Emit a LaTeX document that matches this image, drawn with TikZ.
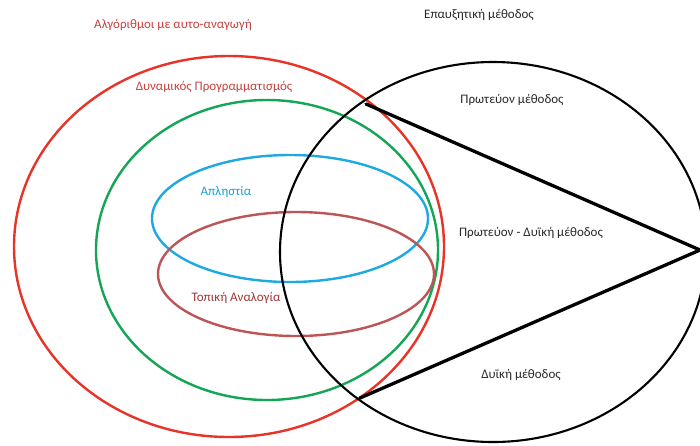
\documentclass[tikz,border=0pt]{standalone}
\usepackage{fontspec}
\setmainfont{Carlito}
\usetikzlibrary{shapes.geometric}
\definecolor{cred}{RGB}{232,52,40}
\definecolor{cgreen}{RGB}{20,165,85}
\definecolor{cblue}{RGB}{30,170,225}
\definecolor{cbrown}{RGB}{190,85,85}
\definecolor{tred}{RGB}{200,65,65}
\definecolor{tblue}{RGB}{30,160,215}
\definecolor{tbrown}{RGB}{160,55,55}
\definecolor{tblack}{RGB}{40,40,40}
\tikzset{
  ring/.style={ellipse, draw, inner sep=0pt, line width=2.4pt},
  lbl/.style={font=\fontsize{13}{15}\selectfont, inner sep=1pt},
  edge/.style={line width=3.3pt, line cap=round, line join=round}
}
\begin{document}
\begin{tikzpicture}[x=1pt,y=-1pt]
\useasboundingbox (0,0) rectangle (700,445);
\fill[white] (0,0) rectangle (700,445);
% coloured rings
\node[ring, draw=cred, minimum width=430pt, minimum height=381pt] (alg) at (229,246.5) {};
\node[ring, draw=cgreen, minimum width=342pt, minimum height=300pt] (dyn) at (267,250) {};
\node[ring, draw=cblue, minimum width=276pt, minimum height=127pt] (greedy) at (290,218.5) {};
\node[ring, draw=cbrown, minimum width=276pt, minimum height=124pt] (local) at (296,274) {};
% black ring
\node[ring, draw=black, line width=2.1pt, minimum width=426pt, minimum height=380pt] (aug) at (493,252) {};
% triangle lines
\coordinate (tA) at (366,104);
\coordinate (tB) at (700,250);
\coordinate (tC) at (360,398);
\draw[edge] (tA) -- (tB) -- (tC);
% labels
\node[lbl, text=tred] (l1) at (173,25) {Αλγόριθμοι με αυτο-αναγωγή};
\node[lbl, text=tred] (l2) at (214,87) {Δυναμικός Προγραμματισμός};
\node[lbl, text=tblack] (l3) at (479,15) {Επαυξητική μέθοδος};
\node[lbl, text=tblack] (l4) at (512,100) {Πρωτεύον μέθοδος};
\node[lbl, text=tblue] (l5) at (226,192) {Απληστία};
\node[lbl, text=tbrown] (l6) at (236,298) {Τοπική Αναλογία};
\node[lbl, text=tblack] (l7) at (531,233) {Πρωτεύον - Δυϊκή μέθοδος};
\node[lbl, text=tblack] (l8) at (521,375) {Δυϊκή μέθοδος};
\end{tikzpicture}
\end{document}
